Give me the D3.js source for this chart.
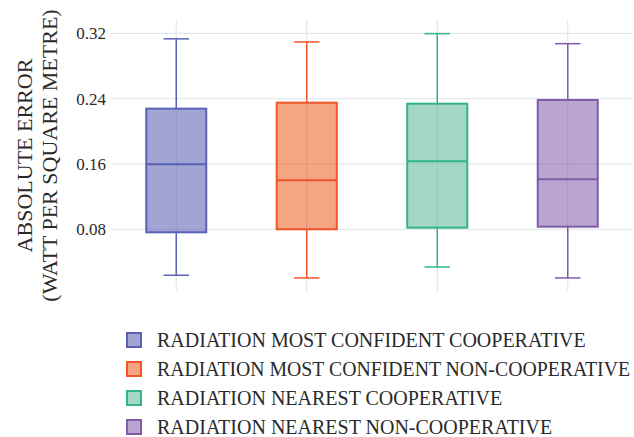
<!DOCTYPE html>
<html>
<head>
<meta charset="utf-8">
<script src="https://cdn.jsdelivr.net/npm/d3@7"></script>
<style>
  body { margin: 0; background: #fff; }
</style>
</head>
<body>
<svg id="chart" width="634" height="437"></svg>
<script>
// Series names (legend labels)
const series = [
    "RADIATION MOST CONFIDENT COOPERATIVE",
    "RADIATION MOST CONFIDENT NON-COOPERATIVE",
    "RADIATION NEAREST COOPERATIVE",
    "RADIATION NEAREST NON-COOPERATIVE"
];
// Box statistics
const lowerWhisker = [0.0237, 0.0204, 0.0338, 0.0204];
const q1 = [0.0763, 0.0800, 0.0820, 0.0832];
const median = [0.1598, 0.1400, 0.1633, 0.1413];
const q3 = [0.2278, 0.2351, 0.2339, 0.2384];
const upperWhisker = [0.3133, 0.3095, 0.3197, 0.3074];
const yTicks = [0.08, 0.16, 0.24, 0.32];

const baseColors = ["#454ba9", "#ed4b05", "#4bb189", "#754ba1"];
const lineColors = ["#5a62b8", "#f0552a", "#33b488", "#7e5ca8"];
const serif = "Liberation Serif";
const textColor = "#2a2a2a";

const svg = d3.select("#chart");
const margin = { top: 20, right: 1, bottom: 146, left: 111 };
const width = +svg.attr("width");
const height = +svg.attr("height");

const x = d3.scaleBand()
    .domain(series)
    .range([margin.left, width - margin.right])
    .padding(0);

const y = d3.scaleLinear()
    .domain([0.0044, 0.3364])
    .range([height - margin.bottom, margin.top]);

// Grid lines
svg.append("g")
    .selectAll("line")
    .data(yTicks)
    .enter().append("line")
    .attr("x1", margin.left)
    .attr("x2", width - margin.right)
    .attr("y1", d => y(d))
    .attr("y2", d => y(d))
    .attr("stroke", "#dde3ec")
    .attr("stroke-width", 1);

svg.append("g")
    .selectAll("line")
    .data(series)
    .enter().append("line")
    .attr("x1", d => x(d) + x.bandwidth() / 2)
    .attr("x2", d => x(d) + x.bandwidth() / 2)
    .attr("y1", margin.top)
    .attr("y2", height - margin.bottom)
    .attr("stroke", "#dde3ec")
    .attr("stroke-width", 1);

// Y axis (labels only)
const yAxis = svg.append("g")
    .attr("transform", `translate(${margin.left - 2}, 0)`)
    .call(d3.axisLeft(y).tickValues(yTicks).tickFormat(d3.format(".2f")).tickSize(0));
yAxis.select(".domain").remove();
yAxis.attr("font-family", serif).attr("font-size", 17);
yAxis.selectAll("text")
    .style("font-family", serif)
    .style("font-size", "17px")
    .style("fill", textColor);

// Boxes
const boxW = x.bandwidth() * 0.46;
const capW = x.bandwidth() * 0.195;
const boxes = svg.append("g")
    .selectAll("g")
    .data(series)
    .enter().append("g")
    .attr("transform", d => `translate(${x(d) + x.bandwidth() / 2}, 0)`);

boxes.append("line")
    .attr("x1", 0).attr("x2", 0)
    .attr("y1", (d, i) => y(upperWhisker[i]))
    .attr("y2", (d, i) => y(q3[i]))
    .attr("stroke", (d, i) => lineColors[i]).attr("stroke-width", 1.5);

boxes.append("line")
    .attr("x1", 0).attr("x2", 0)
    .attr("y1", (d, i) => y(q1[i]))
    .attr("y2", (d, i) => y(lowerWhisker[i]))
    .attr("stroke", (d, i) => lineColors[i]).attr("stroke-width", 1.5);

boxes.append("line")
    .attr("x1", -capW / 2).attr("x2", capW / 2)
    .attr("y1", (d, i) => y(upperWhisker[i]))
    .attr("y2", (d, i) => y(upperWhisker[i]))
    .attr("stroke", (d, i) => lineColors[i]).attr("stroke-width", 1.5);

boxes.append("line")
    .attr("x1", -capW / 2).attr("x2", capW / 2)
    .attr("y1", (d, i) => y(lowerWhisker[i]))
    .attr("y2", (d, i) => y(lowerWhisker[i]))
    .attr("stroke", (d, i) => lineColors[i]).attr("stroke-width", 1.5);

boxes.append("rect")
    .attr("x", -boxW / 2)
    .attr("width", boxW)
    .attr("y", (d, i) => y(q3[i]))
    .attr("height", (d, i) => y(q1[i]) - y(q3[i]))
    .attr("fill", (d, i) => baseColors[i])
    .attr("fill-opacity", 0.5)
    .attr("stroke", (d, i) => lineColors[i])
    .attr("stroke-width", 2);

boxes.append("line")
    .attr("x1", -boxW / 2).attr("x2", boxW / 2)
    .attr("y1", (d, i) => y(median[i]))
    .attr("y2", (d, i) => y(median[i]))
    .attr("stroke", (d, i) => lineColors[i]).attr("stroke-width", 2);

// Y axis title (two lines)
const title = svg.append("text")
    .attr("transform", `translate(0, ${(margin.top + height - margin.bottom) / 2}) rotate(-90)`)
    .attr("text-anchor", "middle")
    .style("font-family", serif)
    .style("font-size", "22px")
    .style("fill", textColor);
title.append("tspan").attr("x", 0).attr("y", 32).text("ABSOLUTE ERROR");
title.append("tspan").attr("x", 0).attr("y", 57).text("(WATT PER SQUARE METRE)");

// Legend
const legendX = 127;
const legendTextX = 30;
const legend = svg.append("g")
    .selectAll("g")
    .data(series)
    .enter().append("g")
    .attr("transform", (d, i) => `translate(${legendX}, ${340 + i * 29})`);

legend.append("rect")
    .attr("x", 0).attr("y", -7)
    .attr("width", 14).attr("height", 14)
    .attr("fill", (d, i) => baseColors[i])
    .attr("fill-opacity", 0.5)
    .attr("stroke", (d, i) => lineColors[i])
    .attr("stroke-width", 2);

legend.append("text")
    .attr("x", legendTextX)
    .attr("dy", "0.35em")
    .style("font-family", serif)
    .style("font-size", "20px")
    .style("fill", textColor)
    .text(d => d);

// Keep each legend label inside the picture if the face comes out wider
const maxTextW = width - 4 - legendX - legendTextX;
legend.selectAll("text").each(function () {
    const w = this.getComputedTextLength();
    if (w > maxTextW) {
        d3.select(this)
            .attr("textLength", maxTextW)
            .attr("lengthAdjust", "spacingAndGlyphs");
    }
});
</script>
</body>
</html>
